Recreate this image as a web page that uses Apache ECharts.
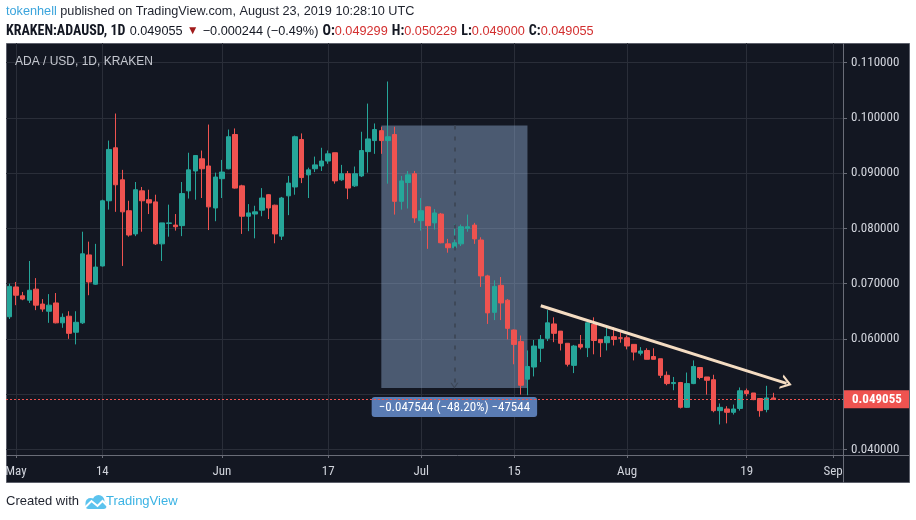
<!DOCTYPE html>
<html>
<head>
<meta charset="utf-8">
<title>KRAKEN:ADAUSD, 1D</title>
<script src="https://cdn.jsdelivr.net/npm/echarts@6/dist/echarts.min.js"></script>
<style>
    html, body { margin: 0; padding: 0; background: #ffffff; }
    #chart { width: 916px; height: 520px; }
</style>
</head>
<body>
<div id="chart"></div>
<script>
// Daily candles, rows are [open, high, low, close]
var apr = [
    [0.0640, 0.0700, 0.0636, 0.0695]
];
var may = [
    [0.0694, 0.0703, 0.0661, 0.0679], [0.0678, 0.0685, 0.0670, 0.0672], [0.0670, 0.0741, 0.0665, 0.0688],
    [0.0690, 0.0710, 0.0652, 0.0661], [0.0663, 0.0672, 0.0649, 0.0654], [0.0650, 0.0681, 0.0629, 0.0661],
    [0.0665, 0.0683, 0.0628, 0.0629], [0.0629, 0.0646, 0.0620, 0.0639], [0.0641, 0.0650, 0.0600, 0.0610],
    [0.0612, 0.0650, 0.0590, 0.0630], [0.0629, 0.0794, 0.0627, 0.0754], [0.0752, 0.0776, 0.0679, 0.0703],
    [0.0699, 0.0772, 0.0698, 0.0730], [0.0732, 0.0852, 0.0731, 0.0850], [0.0850, 0.0959, 0.0834, 0.0943],
    [0.0946, 0.1008, 0.0830, 0.0879], [0.0888, 0.0906, 0.0732, 0.0830], [0.0832, 0.0850, 0.0785, 0.0788],
    [0.0790, 0.0884, 0.0786, 0.0870], [0.0868, 0.0875, 0.0794, 0.0850], [0.0852, 0.0870, 0.0826, 0.0846],
    [0.0848, 0.0861, 0.0770, 0.0772], [0.0772, 0.0810, 0.0741, 0.0810], [0.0809, 0.0843, 0.0785, 0.0810],
    [0.0806, 0.0826, 0.0796, 0.0803], [0.0805, 0.0884, 0.0786, 0.0863], [0.0868, 0.0937, 0.0854, 0.0906],
    [0.0904, 0.0932, 0.0852, 0.0932], [0.0926, 0.0941, 0.0855, 0.0908], [0.0913, 0.0988, 0.0797, 0.0839],
    [0.0837, 0.0901, 0.0813, 0.0893]
];
var jun = [
    [0.0890, 0.0924, 0.0855, 0.0902], [0.0908, 0.0979, 0.0907, 0.0966], [0.0970, 0.0981, 0.0872, 0.0873],
    [0.0877, 0.0879, 0.0790, 0.0822], [0.0822, 0.0844, 0.0795, 0.0828], [0.0826, 0.0841, 0.0782, 0.0830],
    [0.0833, 0.0873, 0.0822, 0.0855], [0.0861, 0.0862, 0.0817, 0.0837], [0.0842, 0.0843, 0.0773, 0.0790],
    [0.0786, 0.0857, 0.0779, 0.0855], [0.0859, 0.0895, 0.0824, 0.0882], [0.0875, 0.0968, 0.0861, 0.0966],
    [0.0961, 0.0972, 0.0882, 0.0892], [0.0897, 0.0910, 0.0855, 0.0906], [0.0908, 0.0930, 0.0902, 0.0915],
    [0.0913, 0.0946, 0.0904, 0.0922], [0.0922, 0.0941, 0.0917, 0.0935], [0.0937, 0.0937, 0.0881, 0.0886],
    [0.0888, 0.0915, 0.0886, 0.0899], [0.0899, 0.0904, 0.0853, 0.0873], [0.0877, 0.0912, 0.0875, 0.0899],
    [0.0895, 0.0975, 0.0893, 0.0941], [0.0939, 0.1026, 0.0901, 0.0962], [0.0959, 0.0990, 0.0935, 0.0979],
    [0.0977, 0.0984, 0.0935, 0.0959], [0.0959, 0.1066, 0.0881, 0.0966], [0.0970, 0.0984, 0.0825, 0.0849],
    [0.0849, 0.0895, 0.0834, 0.0886], [0.0883, 0.0904, 0.0836, 0.0897], [0.0899, 0.0904, 0.0810, 0.0819]
];
var jul = [
    [0.0814, 0.0855, 0.0796, 0.0832], [0.0839, 0.0840, 0.0763, 0.0805], [0.0810, 0.0835, 0.0798, 0.0828],
    [0.0826, 0.0828, 0.0773, 0.0774], [0.0772, 0.0781, 0.0756, 0.0765], [0.0765, 0.0808, 0.0764, 0.0774],
    [0.0772, 0.0807, 0.0768, 0.0803], [0.0800, 0.0825, 0.0794, 0.0803], [0.0806, 0.0810, 0.0772, 0.0781],
    [0.0779, 0.0784, 0.0694, 0.0714], [0.0714, 0.0716, 0.0627, 0.0647], [0.0648, 0.0706, 0.0634, 0.0695],
    [0.0697, 0.0712, 0.0634, 0.0665], [0.0670, 0.0672, 0.0599, 0.0619], [0.0616, 0.0617, 0.0554, 0.0590],
    [0.0595, 0.0606, 0.0499, 0.0516], [0.0527, 0.0579, 0.0498, 0.0550], [0.0549, 0.0598, 0.0532, 0.0587],
    [0.0583, 0.0607, 0.0558, 0.0599], [0.0601, 0.0652, 0.0596, 0.0629], [0.0627, 0.0639, 0.0594, 0.0610],
    [0.0614, 0.0614, 0.0579, 0.0592], [0.0592, 0.0592, 0.0550, 0.0554], [0.0552, 0.0589, 0.0538, 0.0587],
    [0.0590, 0.0607, 0.0581, 0.0585], [0.0584, 0.0630, 0.0567, 0.0629], [0.0626, 0.0639, 0.0572, 0.0597],
    [0.0599, 0.0599, 0.0567, 0.0593], [0.0593, 0.0624, 0.0579, 0.0604], [0.0604, 0.0621, 0.0588, 0.0599],
    [0.0602, 0.0612, 0.0593, 0.0601]
];
var aug = [
    [0.0602, 0.0606, 0.0581, 0.0587], [0.0590, 0.0590, 0.0561, 0.0576], [0.0574, 0.0585, 0.0570, 0.0578],
    [0.0579, 0.0583, 0.0563, 0.0563], [0.0568, 0.0583, 0.0563, 0.0563], [0.0564, 0.0564, 0.0529, 0.0534],
    [0.0534, 0.0541, 0.0516, 0.0519], [0.0519, 0.0531, 0.0507, 0.0521], [0.0521, 0.0522, 0.0474, 0.0476],
    [0.0476, 0.0539, 0.0475, 0.0519], [0.0519, 0.0561, 0.0518, 0.0550], [0.0548, 0.0548, 0.0527, 0.0530],
    [0.0531, 0.0531, 0.0499, 0.0525], [0.0526, 0.0535, 0.0467, 0.0470], [0.0470, 0.0483, 0.0445, 0.0476],
    [0.0473, 0.0478, 0.0447, 0.0467], [0.0467, 0.0481, 0.0463, 0.0473], [0.0474, 0.0512, 0.0470, 0.0506],
    [0.0506, 0.0510, 0.0496, 0.0501], [0.0502, 0.0502, 0.0489, 0.0490], [0.0492, 0.0492, 0.0459, 0.0470],
    [0.0472, 0.0515, 0.0467, 0.0493], [0.049299, 0.050229, 0.049000, 0.049055]
];

// Time axis: first day and how many days are on the axis (the rest is empty space)
var firstDay = [2019, 3, 30];
var dayCount = 126;
var tickDates = ['2019-05-01', '2019-05-14', '2019-06-01', '2019-06-17', '2019-07-01',
    '2019-07-15', '2019-08-01', '2019-08-19', '2019-09-01'];
var tickLabels = ['May', '14', 'Jun', '17', 'Jul', '15', 'Aug', '19', 'Sep'];

// Price axis
var priceMin = 0.04;
var priceMax = 0.11;
var priceStep = 0.01;
var lastPrice = 0.049055;

// Drawings on the chart
var rangeFrom = ['2019-06-25', 0.09864];
var rangeTo = ['2019-07-17', 0.05110];
var rangeArrowDay = '2019-07-06';
var rangeText = '\u22120.047544 (\u221248.20%) \u221247544';
var trendFrom = ['2019-07-19', 0.0660];
var trendTo = ['2019-08-25', 0.05195];

window.onload = init;

function init() {
    var narrow = "'Liberation Sans Narrow', 'Roboto Condensed', Roboto, sans-serif";
    var sans = "'Liberation Sans', Arial, sans-serif";
    var upColor = '#26a69a';
    var downColor = '#ef5350';
    var gridColor = '#2a2e39';
    var labelColor = '#d1d4dc';

    // day categories
    var days = [];
    for (var i = 0; i < dayCount; i++) {
        var d = new Date(Date.UTC(firstDay[0], firstDay[1], firstDay[2] + i));
        days.push(d.toISOString().slice(0, 10));
    }

    // candles -> [open, close, low, high]
    var rows = apr.concat(may, jun, jul, aug);
    var candles = rows.map(function(r) { return [r[0], r[3], r[2], r[1]]; });

    var isTick = function(index, value) { return tickDates.indexOf(value) >= 0; };

    var chevron = 'path://M0,10 L6,0 L12,10 L10,10 L6,3.6 L2,10 Z';

    var rich = function(color, weight, size, family) {
        return { color: color, fontWeight: weight, fontSize: size, fontFamily: family };
    };

    var chart = echarts.init(document.getElementById('chart'), null, { renderer: 'canvas' });

    var option = {
        animation: false,
        backgroundColor: '#ffffff',
        textStyle: { fontFamily: narrow },
        title: [{
            left: 6, top: 5, padding: 0,
            text: '{u|tokenhell}{t| published on TradingView.com, August 23, 2019 10:28:10 UTC}',
            textStyle: {
                fontWeight: 'normal',
                rich: { u: rich('#3aa4dc', 'normal', 12.7, sans), t: rich('#1e222d', 'normal', 12.7, sans) }
            }
        }, {
            left: 6, top: 22, padding: 0,
            text: '{b|KRAKEN:ADAUSD, 1D} {n|0.049055} {d|\u25BC} {n|\u22120.000244 (\u22120.49%)} ' +
                '{b|O:}{r|0.049299} {b|H:}{r|0.050229} {b|L:}{r|0.049000} {b|C:}{r|0.049055}',
            textStyle: {
                fontWeight: 'normal',
                rich: {
                    b: rich('#131722', 'bold', 14, narrow),
                    n: rich('#131722', 'normal', 12.7, sans),
                    d: rich('#a11b1b', 'normal', 12, sans),
                    r: rich('#d32f2f', 'normal', 12.7, sans)
                }
            }
        }, {
            left: 15, top: 56, padding: 0,
            text: 'ADA / USD, 1D, KRAKEN',
            textStyle: { color: '#c5c8d0', fontSize: 12, fontWeight: 'normal', fontFamily: sans }
        }, {
            left: 6, top: 495, padding: 0,
            text: 'Created with',
            textStyle: { color: '#1e222d', fontSize: 13, fontWeight: 'normal', fontFamily: sans }
        }, {
            left: 106, top: 495, padding: 0,
            text: 'TradingView',
            textStyle: { color: '#3bb3e4', fontSize: 13, fontWeight: 'normal', fontFamily: sans }
        }],
        graphic: [
            // dark panel
            { type: 'rect', z: -10, silent: true, shape: { x: 6.5, y: 43.5, width: 903, height: 439 },
                style: { fill: '#131722', stroke: '#5d606b', lineWidth: 1 } },
            // axis lines
            { type: 'line', z: 10, silent: true, shape: { x1: 6, y1: 455.5, x2: 909, y2: 455.5 },
                style: { stroke: '#6a6d78', lineWidth: 1 } },
            { type: 'line', z: 10, silent: true, shape: { x1: 843.5, y1: 43, x2: 843.5, y2: 483 },
                style: { stroke: '#6a6d78', lineWidth: 1 } },
            // TradingView logo
            { type: 'group', left: 82, top: 495, silent: true, children: [
                { type: 'circle', shape: { cx: 6, cy: 8, r: 5 }, style: { fill: '#5cc3ee' } },
                { type: 'circle', shape: { cx: 14, cy: 6, r: 6 }, style: { fill: '#5cc3ee' } },
                { type: 'rect', shape: { x: 1, y: 7, width: 21, height: 7, r: 3 }, style: { fill: '#5cc3ee' } },
                { type: 'polyline', shape: { points: [[0, 13], [7, 6], [13, 11], [18, 6], [23, 11]] },
                    style: { stroke: '#ffffff', lineWidth: 2, fill: null } }
            ] }
        ],
        grid: [
            { left: 6, right: 73, top: 43, bottom: 65 },
            { left: 6, right: 73, top: 62.7, bottom: 70.7 }
        ],
        xAxis: [{
            type: 'category',
            gridIndex: 0,
            data: days,
            boundaryGap: true,
            axisLine: { show: false },
            axisTick: { show: true, interval: isTick, alignWithLabel: true, length: 3, lineStyle: { color: '#6a6d78' } },
            axisLabel: {
                interval: isTick, color: labelColor, fontSize: 13, margin: 10, fontFamily: narrow,
                formatter: function(v) { return tickLabels[tickDates.indexOf(v)]; }
            },
            splitLine: { show: true, interval: isTick, alignWithLabel: true, lineStyle: { color: gridColor, width: 1 } }
        }, {
            type: 'category',
            gridIndex: 1,
            data: days,
            show: false
        }],
        yAxis: [{
            type: 'value',
            gridIndex: 0,
            min: 0.03897,
            max: 0.11357,
            show: false
        }, {
            type: 'value',
            gridIndex: 1,
            position: 'right',
            min: priceMin,
            max: priceMax,
            interval: priceStep,
            axisLine: { show: false },
            axisTick: { show: true, inside: false, length: 4, lineStyle: { color: '#6a6d78' } },
            axisLabel: {
                color: labelColor, fontSize: 13, margin: 8, fontFamily: narrow,
                // the last-price tag covers the label next to it
                formatter: function(v) { return Math.abs(v - lastPrice) < 0.003 ? '' : v.toFixed(6); }
            },
            splitLine: { show: true, lineStyle: { color: gridColor, width: 1 } }
        }],
        series: [{
            name: 'ADAUSD',
            type: 'candlestick',
            xAxisIndex: 0,
            yAxisIndex: 0,
            data: candles,
            barWidth: 5,
            clip: true,
            itemStyle: {
                color: upColor,
                color0: downColor,
                borderColor: upColor,
                borderColor0: downColor,
                borderColorDoji: upColor,
                borderWidth: 1
            },
            markArea: {
                silent: true,
                itemStyle: { color: 'rgba(145, 172, 210, 0.45)' },
                label: {
                    show: true,
                    position: 'bottom',
                    distance: 9,
                    formatter: rangeText,
                    color: '#ffffff',
                    fontSize: 13,
                    fontFamily: narrow,
                    backgroundColor: '#5a7cb4',
                    borderRadius: 3,
                    padding: [4, 7, 3, 7]
                },
                data: [[
                    { xAxis: rangeFrom[0], yAxis: rangeFrom[1] },
                    { xAxis: rangeTo[0], yAxis: rangeTo[1] }
                ]]
            },
            markLine: {
                silent: true,
                precision: 6,
                symbol: ['none', 'none'],
                label: { show: false },
                data: [
                    {
                        yAxis: lastPrice,
                        lineStyle: { color: downColor, type: [2, 2], width: 1 },
                        label: {
                            show: true,
                            position: 'end',
                            distance: 0,
                            formatter: lastPrice.toFixed(6),
                            color: '#ffffff',
                            fontSize: 13,
                            fontWeight: 'bold',
                            fontFamily: narrow,
                            backgroundColor: downColor,
                            width: 48,
                            padding: [3, 9, 2, 9]
                        }
                    },
                    [
                        { coord: trendFrom, symbol: 'none', lineStyle: { color: '#f4dcc2', width: 3, type: 'solid' } },
                        { coord: trendTo, symbol: chevron, symbolSize: [15, 11] }
                    ],
                    [
                        { coord: [rangeArrowDay, rangeFrom[1]], symbol: 'none', lineStyle: { color: '#3e4858', width: 2, type: [4, 7] } },
                        { coord: [rangeArrowDay, rangeTo[1] + 0.0004], symbol: chevron, symbolSize: [8, 6] }
                    ]
                ]
            }
        }]
    };

    chart.setOption(option);
}
</script>
</body>
</html>
